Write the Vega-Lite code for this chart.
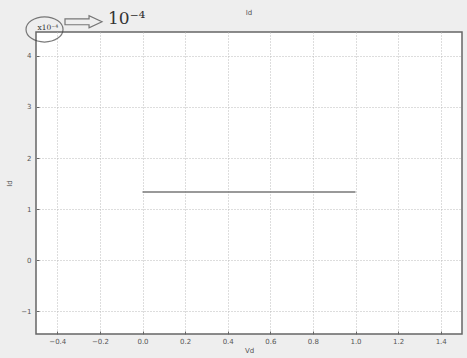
{
  "$schema": "https://vega.github.io/schema/vega-lite/v6.json",
  "autosize": {"type": "none"},
  "width": 426,
  "height": 302,
  "padding": {"left": 36, "top": 32, "right": 5, "bottom": 24},
  "background": "#eeeeee",
  "title": {"text": "Id", "fontSize": 7, "font": "DejaVu Sans", "fontWeight": "normal", "color": "#555555", "offset": 6, "dy": 12, "anchor": "middle"},
  "config": {
    "view": {"fill": "white", "stroke": "#666666", "strokeWidth": 1.5},
    "axis": {
      "labelFont": "DejaVu Sans", "labelFontSize": 7, "labelColor": "#555555",
      "titleFont": "DejaVu Sans", "titleFontSize": 7, "titleColor": "#555555", "titleFontWeight": "normal",
      "grid": true, "gridColor": "#bbbbbb", "gridDash": [1, 2], "gridWidth": 1,
      "domain": false, "ticks": true, "tickColor": "#666666", "tickSize": -3, "tickWidth": 1
    }
  },
  "datasets": {
    "curve": [{"Vd": 0, "Id": 1.333}, {"Vd": 1, "Id": 1.333}],
    "notes": [
      {"Vd": -0.493, "Id": 4.55, "label": "x10⁻⁴", "size": 7.5},
      {"Vd": -0.162, "Id": 4.725, "label": "10⁻⁴", "size": 17}
    ],
    "arrow": [{"Vd": -0.277, "Id": 4.67}],
    "ring": [{"Vd": -0.46, "Id": 4.52}]
  },
  "layer": [
    {
      "data": {"name": "curve"},
      "mark": {"type": "line", "color": "#777777", "strokeWidth": 1.5},
      "encoding": {
        "x": {"field": "Vd", "type": "quantitative", "scale": {"domain": [-0.5, 1.5], "nice": false, "zero": false},
              "axis": {"title": "Vd", "values": [-0.4, -0.2, 0, 0.2, 0.4, 0.6, 0.8, 1, 1.2, 1.4], "labelPadding": 6, "titlePadding": 2}},
        "y": {"field": "Id", "type": "quantitative", "scale": {"domain": [-1.45, 4.47], "nice": false, "zero": false},
              "axis": {"title": "Id", "values": [-1, 0, 1, 2, 3, 4], "labelPadding": 8, "titlePadding": 8}}
      }
    },
    {
      "data": {"name": "notes"},
      "mark": {"type": "text", "clip": false, "align": "left", "baseline": "middle", "font": "DejaVu Serif", "color": "#333333"},
      "encoding": {
        "x": {"field": "Vd", "type": "quantitative"},
        "y": {"field": "Id", "type": "quantitative"},
        "text": {"field": "label"},
        "size": {"field": "size", "type": "quantitative", "scale": null, "legend": null}
      }
    },
    {
      "data": {"name": "arrow"},
      "mark": {"type": "point", "clip": false, "filled": false, "stroke": "#444444", "strokeWidth": 1.2, "size": 1369,
               "shape": "M -1 -0.16 L 0.3 -0.16 L 0.3 -0.33 L 1 0 L 0.3 0.33 L 0.3 0.16 L -1 0.16 Z"},
      "encoding": {
        "x": {"field": "Vd", "type": "quantitative"},
        "y": {"field": "Id", "type": "quantitative"}
      }
    },
    {
      "data": {"name": "ring"},
      "mark": {"type": "point", "clip": false, "filled": false, "stroke": "#444444", "strokeWidth": 1.2, "size": 1369,
               "shape": "M -1 0 A 1 0.68 0 1 0 1 0 A 1 0.68 0 1 0 -1 0 Z"},
      "encoding": {
        "x": {"field": "Vd", "type": "quantitative"},
        "y": {"field": "Id", "type": "quantitative"}
      }
    }
  ]
}
